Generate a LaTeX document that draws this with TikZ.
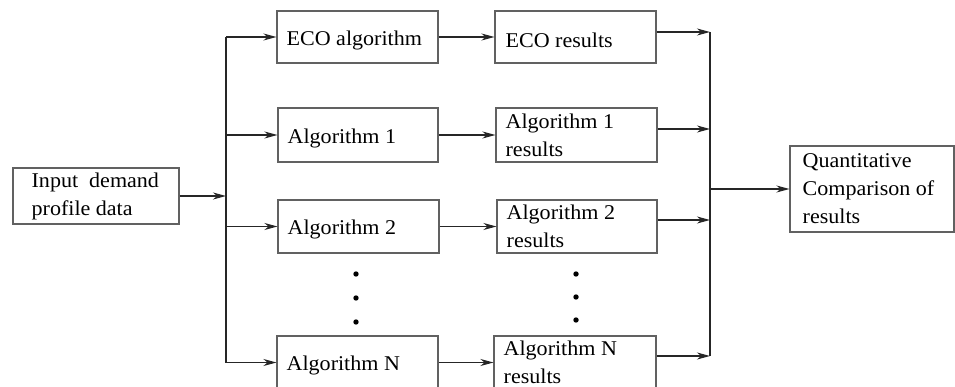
\documentclass[tikz,border=0pt]{standalone}
\usepackage{fontspec}
\setmainfont{Liberation Serif}[FakeStretch=1.05]
\usetikzlibrary{arrows.meta}
\begin{document}
\begin{tikzpicture}[x=1pt,y=-1pt,
  font=\fontsize{21}{28}\selectfont,
  box/.style={draw=black!62, line width=1.1pt, rectangle, inner sep=0pt},
  lbl/.style={anchor=west, align=left, inner sep=0pt, xshift=#1},
  lbl/.default=10pt,
  conn/.style={draw=black!85, line width=1.2pt},
  arr/.style={conn, -{Stealth[length=13pt,width=7pt,inset=4pt]}}
]
\useasboundingbox (0,0) rectangle (955,387);

% input
\node[box, minimum width=166pt, minimum height=56pt,
  label={[lbl=19pt]west:{Input\ \ demand\\profile data}}] (in) at (96,196) {};

% algorithm column
\node[box, minimum width=161pt, minimum height=52pt,
  label={[lbl, yshift=-3pt]west:ECO algorithm}] (eco) at (357.5,37) {};
\node[box, minimum width=160pt, minimum height=54pt,
  label={[lbl, yshift=-3pt]west:Algorithm 1}] (a1) at (358,135) {};
\node[box, minimum width=161pt, minimum height=53pt,
  label={[lbl, yshift=-3pt]west:Algorithm 2}] (a2) at (358.5,226.5) {};
\node[box, minimum width=161pt, minimum height=53pt,
  label={[lbl, yshift=-3pt]west:Algorithm N}] (an) at (357.5,362.5) {};

% results column
\node[box, minimum width=161pt, minimum height=52pt,
  label={[lbl=11pt, yshift=-3pt]west:ECO results}] (ecor) at (575.5,37) {};
\node[box, minimum width=161pt, minimum height=54pt,
  label={[lbl]west:{Algorithm 1\\results}}] (r1) at (576.5,135) {};
\node[box, minimum width=160pt, minimum height=53pt,
  label={[lbl]west:{Algorithm 2\\results}}] (r2) at (577,226.5) {};
\node[box, minimum width=162pt, minimum height=53pt,
  label={[lbl]west:{Algorithm N\\results}}] (rn) at (575,362.5) {};

% comparison
\node[box, minimum width=164pt, minimum height=86pt,
  label={[lbl=13pt]west:{Quantitative\\Comparison of\\results}}] (q) at (872,189) {};

% dots
\fill[black] (356,274) circle (2.7pt) (356,298) circle (2.7pt) (356,322) circle (2.7pt);
\fill[black] (576,274) circle (2.7pt) (576,297) circle (2.7pt) (576,320) circle (2.7pt);

% left bus
\coordinate (lb) at (226,0);
\draw[conn] (eco.west -| lb) -- (an.west -| lb);
\draw[arr] (in.east) -- (in.east -| lb);
\draw[arr] (eco.west -| lb) -- (eco.west);
\draw[arr] (a1.west -| lb) -- (a1.west);
\draw[arr] (a2.west -| lb) -- (a2.west);
\draw[arr] (an.west -| lb) -- (an.west);

% algorithm -> results
\draw[arr] (eco.east) -- (ecor.west);
\draw[arr] (a1.east) -- (r1.west);
\draw[arr] (a2.east) -- (r2.west);
\draw[arr] (an.east) -- (rn.west);

% right bus
\coordinate (rb) at (710,0);
\coordinate (o1) at ([yshift=5pt]ecor.east);
\coordinate (o2) at ([yshift=6pt]r1.east);
\coordinate (o3) at ([yshift=6.5pt]r2.east);
\coordinate (o4) at ([yshift=6.5pt]rn.east);
\draw[conn] (o1 -| rb) -- (o4 -| rb);
\draw[arr] (o1) -- (o1 -| rb);
\draw[arr] (o2) -- (o2 -| rb);
\draw[arr] (o3) -- (o3 -| rb);
\draw[arr] (o4) -- (o4 -| rb);
\draw[arr] (q.west -| rb) -- (q.west);
\end{tikzpicture}
\end{document}
